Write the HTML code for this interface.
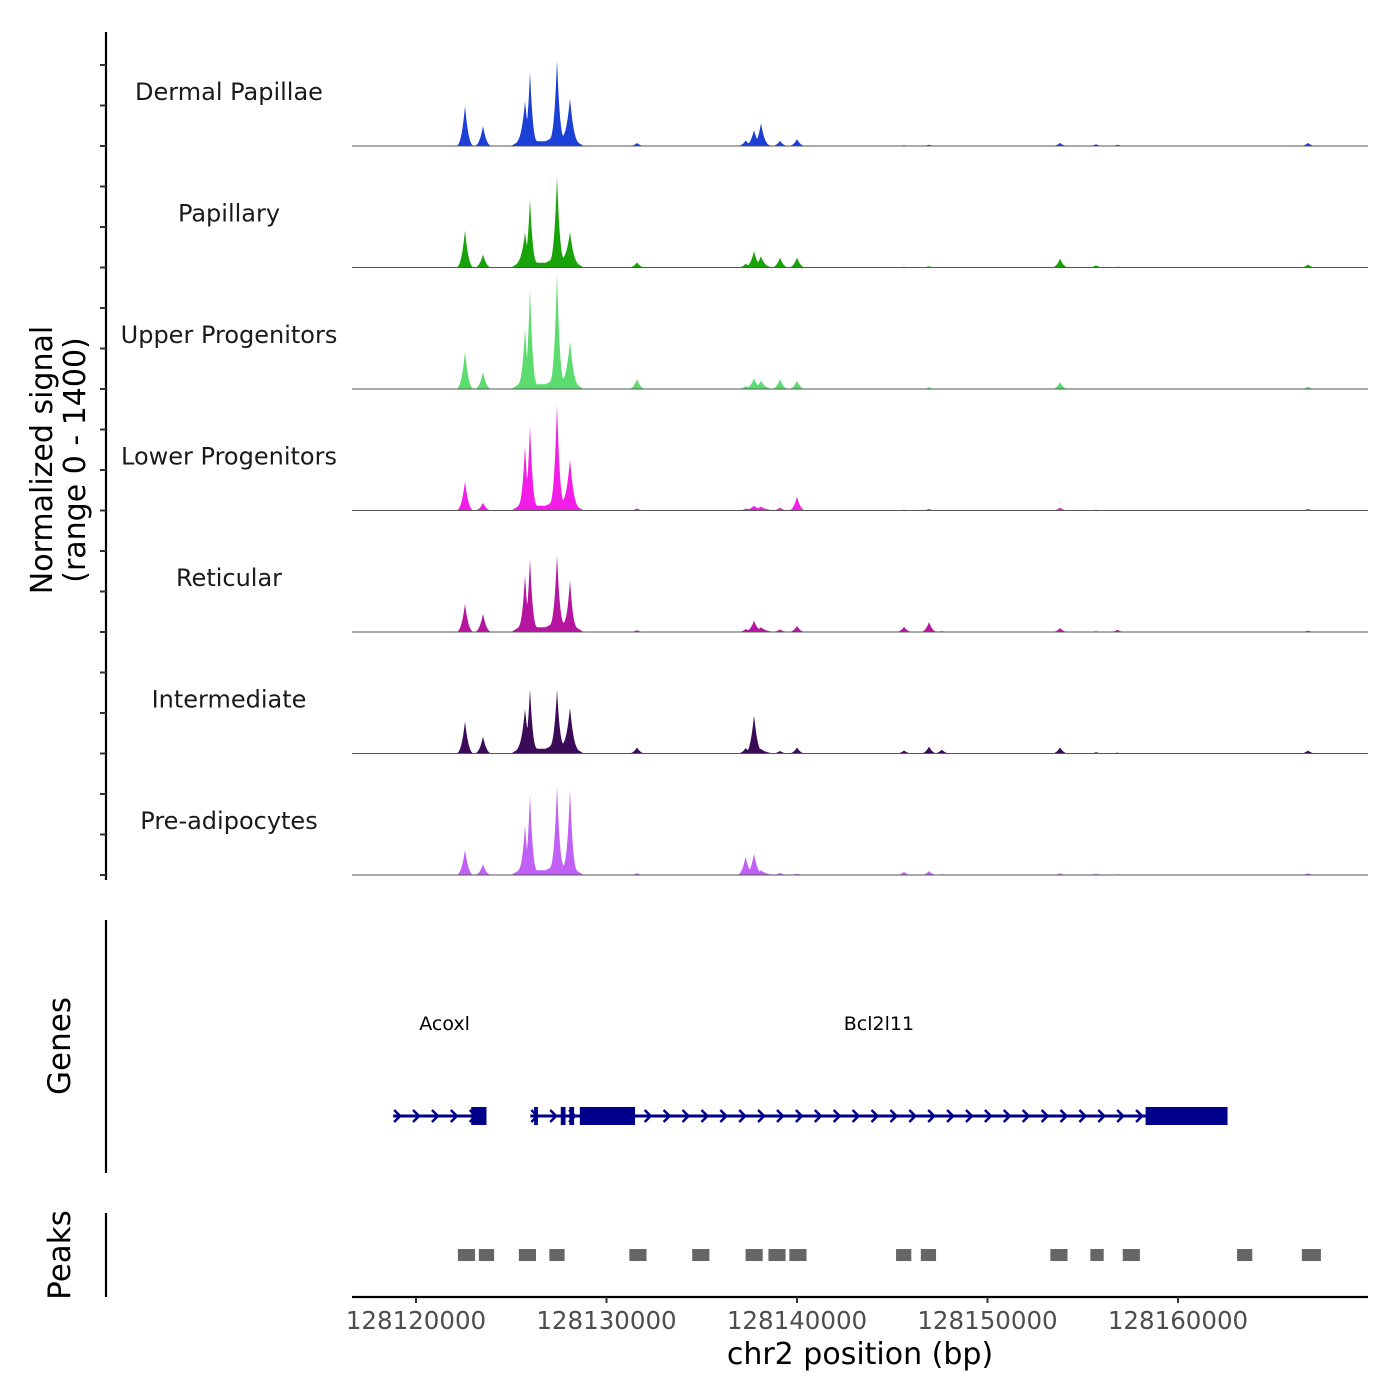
<!DOCTYPE html>
<html><head><meta charset="utf-8"><style>
body{margin:0;background:#fff}
svg{display:block;font-family:"DejaVu Sans","Liberation Sans",sans-serif}
</style></head><body>
<svg id="chart" width="1400" height="1400" viewBox="0 0 1400 1400" xmlns="http://www.w3.org/2000/svg"></svg>
<script>
const trackNames=["Dermal Papillae","Papillary","Upper Progenitors","Lower Progenitors","Reticular","Intermediate","Pre-adipocytes"];
const trackColors=["#1c3fd6","#19a30a","#5cdc6e","#f21ee8","#b5159f","#3b0a58","#c060f5"];
const peakPos=[128122572,128123517,128125722,128125985,128127402,128128085,128131600,128137300,128137745,128138110,128139110,128140000,128145620,128146930,128147600,128153810,128155700,128156830,128166830];
const sigDermal =[460,230,460,800,890,460,35, 60,170,250,60,80, 10,15,5,35,20,15,35];
const sigPapill =[430,150,350,730,950,320,60, 40,175,115,115,115,10,15,5,105,25,10,35];
const sigUpper  =[430,195,640,1100,1230,460,115,30,105,80,115,95, 10,20,5,80,10,5,25];
const sigLower  =[335,90,690,925,1120,500,25, 20,40,30,35,160,10,20,5,35,10,5,20];
const sigRetic  =[325,210,600,790,790,510,20, 30,115,40,30,70, 60,115,10,45,10,25,15];
const sigInter  =[370,195,460,690,640,440,70, 60,430,40,30,70, 35,80,45,70,15,10,35];
const sigPreAd  =[290,125,520,870,925,900,20, 210,230,40,25,15, 35,45,10,20,15,10,20];
const trackSignals=[sigDermal,sigPapill,sigUpper,sigLower,sigRetic,sigInter,sigPreAd];
const bgStart=[128125000,128126800,128137200];
const bgEnd  =[128128800,128128400,128138800];
const bgLevel=[55,45,15];
const xTickLabels=[128120000,128130000,128140000,128150000,128160000];
const peakStart=[128122200,128123300,128125400,128127000,128131200,128134500,128137300,128138500,128139600,128145200,128146500,128153300,128155400,128157100,128163100,128166500];
const peakEnd  =[128123100,128124100,128126300,128127800,128132100,128135400,128138200,128139400,128140500,128146000,128147300,128154200,128156100,128158000,128163900,128167500];
const geneNames=["Acoxl","Bcl2l11"];
const geneStart=[128118800,128126000];
const geneEnd=[128123700,128162600];
const geneLabelPos=[128121500,128144300];
const exonStart=[128122900,128126200,128127600,128128050,128128600,128158300];
const exonEnd=[128123700,128126400,128127850,128128300,128131500,128162600];

const svg=document.getElementById('chart');
const NS="http://www.w3.org/2000/svg";
const X0=416,PXPERBP=(1178-416)/40000;
const xs=bp=>X0+(bp-128120000)*PXPERBP;
const baselines=[146,267.5,389,510.5,632,753.5,875];
const trackH=121.5;
const ys=(v,b)=>b-v/1400*trackH;
function el(t,a,p){const e=document.createElementNS(NS,t);for(const k in a)e.setAttribute(k,a[k]);(p||svg).appendChild(e);return e;}
function txt(s,a,p){const e=el('text',a,p);e.textContent=s;return e;}

const ya=el('line',{x1:106,y1:32,x2:106,y2:880,stroke:'#000','stroke-width':2.2});

for(let t=0;t<7;t++){for(let k=0;k<3;k++){const y=baselines[t]-k*40.5;
 const tk=el('line',{x1:100,y1:y,x2:106,y2:y,stroke:'#333','stroke-width':2});
 }}
const yt=txt('',{transform:'translate(52,460) rotate(-90)','text-anchor':'middle','font-size':30,fill:'#000'});

const t1=el('tspan',{x:0,y:0},yt);t1.textContent='Normalized signal';
const t2=el('tspan',{x:0,dy:33},yt);t2.textContent='(range 0 - 1400)';

for(let t=0;t<7;t++){
 const b=baselines[t],sig=trackSignals[t];
 const g=el('g',{});
 
 
 let d='M352,'+b;
 for(let x=352;x<=1368;x+=0.5){
  const bp=128120000+(x-X0)/PXPERBP;let v=0;
  for(let i=0;i<peakPos.length;i++){const w=sig[i]>500?160:200;const dd=Math.abs(bp-peakPos[i]);if(dd<w*2.5)v=Math.max(v,sig[i]*Math.pow(Math.max(0,1-dd/(w*2.5)),2.6));}
  for(let j=0;j<bgStart.length;j++){if(bp>bgStart[j]&&bp<bgEnd[j]){const r=Math.min(bp-bgStart[j],bgEnd[j]-bp)/400;v+=bgLevel[j]*Math.min(1,r);}}
  d+=' L'+x+','+ys(v,b).toFixed(2);
 }
 d+=' L1368,'+b+' Z';
 const a=el('path',{d:d,fill:trackColors[t]},g);
 
 const bl=el('line',{x1:352,y1:b,x2:1368,y2:b,stroke:'#555','stroke-width':1},g);
 
 const lb=txt(trackNames[t],{x:229,y:b-46,'text-anchor':'middle','font-size':24,fill:'#1a1a1a'},g);
 
}

const ga=el('line',{x1:106,y1:920,x2:106,y2:1173,stroke:'#000','stroke-width':2.2});

const gt=txt('Genes',{transform:'translate(70,1046) rotate(-90)','text-anchor':'middle','font-size':31});

const GY=1116,NAVY='#00008b';
for(let i=0;i<geneNames.length;i++){
 const x1=xs(geneStart[i]),x2=xs(geneEnd[i]);
 const l=el('line',{x1:x1,y1:GY,x2:x2,y2:GY,stroke:NAVY,'stroke-width':3});
 
 for(let x=x1+5;x<x2-4;x+=18.9){
  const ar=el('polyline',{points:(x-4)+','+(GY-6)+' '+(x+2)+','+GY+' '+(x-4)+','+(GY+6),fill:'none',stroke:NAVY,'stroke-width':2.5});
  
 }
 const gl=txt(geneNames[i],{x:xs(geneLabelPos[i]),y:1030,'text-anchor':'middle','font-size':19,fill:'#000'});
 
}
for(let i=0;i<exonStart.length;i++){
 const x1=xs(exonStart[i]),x2=xs(exonEnd[i]);
 const r=el('rect',{x:x1,y:1107,width:Math.max(3,x2-x1),height:18,fill:NAVY});
 
}

const pa=el('line',{x1:106,y1:1213,x2:106,y2:1297,stroke:'#000','stroke-width':2.2});

const pt=txt('Peaks',{transform:'translate(70,1255) rotate(-90)','text-anchor':'middle','font-size':31});

for(let i=0;i<peakStart.length;i++){
 const r=el('rect',{x:xs(peakStart[i]),y:1249,width:xs(peakEnd[i])-xs(peakStart[i]),height:12,fill:'#666'});
 
}

const xa=el('line',{x1:352,y1:1297,x2:1368,y2:1297,stroke:'#000','stroke-width':2.2});

for(const v of xTickLabels){
 const x=xs(v);
 const tk=el('line',{x1:x,y1:1297,x2:x,y2:1303,stroke:'#333','stroke-width':2});
 
 const tl=txt(String(v),{x:x,y:1329,'text-anchor':'middle','font-size':24.5,fill:'#4d4d4d'});
 
}
const xt=txt('chr2 position (bp)',{x:860,y:1364,'text-anchor':'middle','font-size':30});

</script>
</body></html>
